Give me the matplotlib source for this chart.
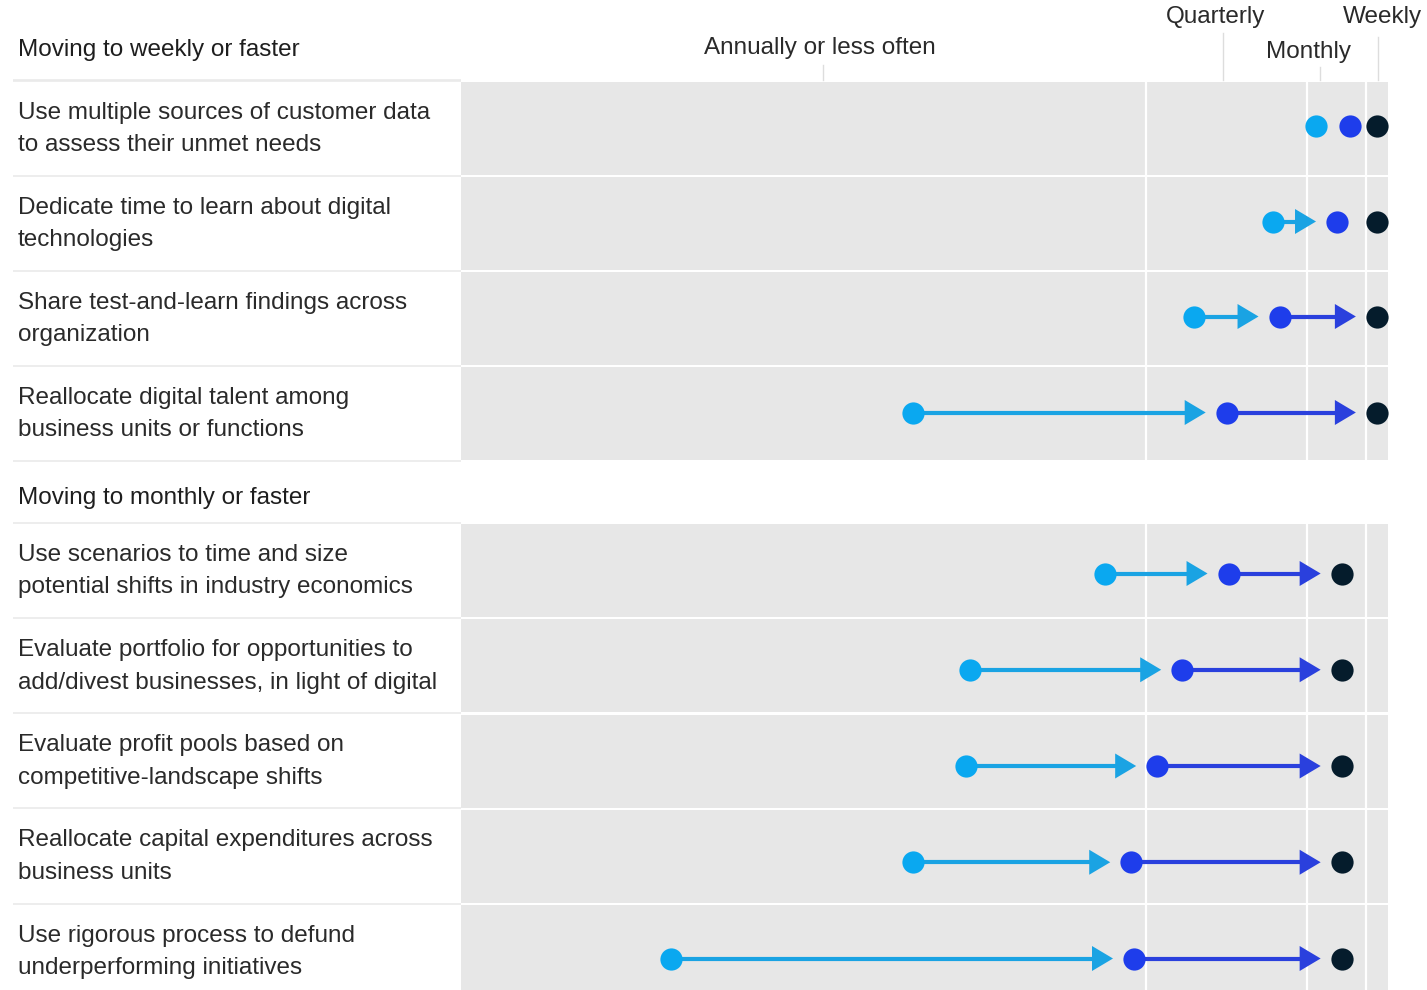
import matplotlib
matplotlib.use("Agg")
import matplotlib.pyplot as plt
from matplotlib.patches import Polygon, Rectangle

# ---------------- data ----------------
sections = ["Moving to weekly or faster", "Moving to monthly or faster"]
labels = [
    "Use multiple sources of customer data\nto assess their unmet needs",
    "Dedicate time to learn about digital\ntechnologies",
    "Share test-and-learn findings across\norganization",
    "Reallocate digital talent among\nbusiness units or functions",
    "Use scenarios to time and size\npotential shifts in industry economics",
    "Evaluate portfolio for opportunities to\nadd/divest businesses, in light of digital",
    "Evaluate profit pools based on\ncompetitive-landscape shifts",
    "Reallocate capital expenditures across\nbusiness units",
    "Use rigorous process to defund\nunderperforming initiatives",
]
section_of_row = [0, 0, 0, 0, 1, 1, 1, 1, 1]
# frequency index (0 = least often, 100 = most often)
past = [92.2, 87.6, 79.1, 48.8, 69.5, 54.9, 54.5, 48.8, 22.7]
current = [95.9, 94.5, 88.3, 82.6, 82.8, 77.8, 75.1, 72.3, 72.6]
future = [98.8, 98.8, 98.8, 98.8, 95.0, 95.0, 95.0, 95.0, 95.0]
scale_ticks = [39.0, 82.2, 92.7, 98.9]
scale_labels = ["Annually or less often", "Quarterly", "Monthly", "Weekly"]
grid_vals = [73.9, 91.3, 97.6]

# ---------------- style / layout ----------------
W, H = 1427, 990
PX0, PX1 = 461, 1388
C_LIGHT = "#0AA8F0"
C_BLUE = "#1E3DEB"
C_DARK = "#051C2C"
C_LIGHT_LINE = "#1AA3E3"
C_BLUE_LINE = "#2A40DD"
PANEL = "#E7E7E7"
TXT = "#2A2A2A"
FONT = ["Liberation Sans", "DejaVu Sans"]
FS = 17.5

plt.rcParams["font.family"] = FONT

fig = plt.figure(figsize=(W / 100, H / 100), dpi=100)
bg = fig.add_axes([0, 0, 1, 1])
bg.set_xlim(0, W)
bg.set_ylim(H, 0)
bg.axis("off")
ax = fig.add_axes([PX0 / W, 0, (PX1 - PX0) / W, 1])
ax.set_xlim(0, 100)
ax.set_ylim(H, 0)
ax.axis("off")

pxu = (PX1 - PX0) / 100.0  # pixels per data unit

# row geometry (pixel layout)
row_tops = [82 + i * 95 for i in range(4)] + [524 + i * 95.25 for i in range(5)]
ROW_H = 93
dot_off = [-1, 0, 0, 1, 5, 6, 7, 8, 9]

# section headers
bg.text(18, 50, sections[0], fontsize=FS, color="#1E1E1E", va="center", ha="left")
bg.text(18, 498, sections[1], fontsize=FS, color="#1E1E1E", va="center", ha="left")

# label-area separator lines
sep_y = [80, 461] + [t - 1.5 for t in row_tops]
for y in sep_y:
    bg.plot([13, PX0], [y, y], color="#EAEAEA", lw=1.2, solid_capstyle="butt")

# grey panels
for i, t in enumerate(row_tops):
    ax.add_patch(Rectangle((0, t), 100, ROW_H, facecolor=PANEL, edgecolor="none", zorder=0))
    bg.text(18, t + ROW_H / 2 + 0.5, labels[i], fontsize=FS, color=TXT, va="center", ha="left",
            linespacing=1.64)

for g in grid_vals:
    ax.axvline(g, color="white", lw=1.6, zorder=1)

# top scale ticks & labels
tick_top = [65, 33, 67, 37]
lab_y = [48, 17, 52, 17]
lab_dx = [-3, -7, -12, 5]
for v, lab, tt, ly, dx in zip(scale_ticks, scale_labels, tick_top, lab_y, lab_dx):
    ax.plot([v, v], [tt, 80], color="#DDDDDD", lw=1.0, clip_on=False, zorder=1)
    ax.text(v + dx / pxu, ly, lab, fontsize=FS, color=TXT, ha="center", va="center", clip_on=False)

# dots and arrows
GAP_TIP = 21 / pxu
TRI_W = 21 / pxu
TRI_H = 12.5
MIN_ARROW = 5.0


def arrow(x0, x1, y, col):
    tip = x1 - GAP_TIP
    base = tip - TRI_W
    ax.plot([x0, base + 0.2], [y, y], color=col, lw=3.0, solid_capstyle="butt", zorder=3)
    ax.add_patch(Polygon([[base, y - TRI_H], [tip, y], [base, y + TRI_H]], closed=True,
                         facecolor=col, edgecolor="none", zorder=3))


for i in range(len(labels)):
    y = row_tops[i] + ROW_H / 2 + dot_off[i] - 2
    if current[i] - past[i] > MIN_ARROW:
        arrow(past[i], current[i], y, C_LIGHT_LINE)
    if future[i] - current[i] > MIN_ARROW:
        arrow(current[i], future[i], y, C_BLUE_LINE)
    ax.plot([past[i]], [y], "o", ms=16, color=C_LIGHT, mec="none", zorder=4)
    ax.plot([current[i]], [y], "o", ms=16, color=C_BLUE, mec="none", zorder=4)
    ax.plot([future[i]], [y], "o", ms=16, color=C_DARK, mec="none", zorder=4)

fig.savefig("out.png", dpi=100, facecolor="white")
